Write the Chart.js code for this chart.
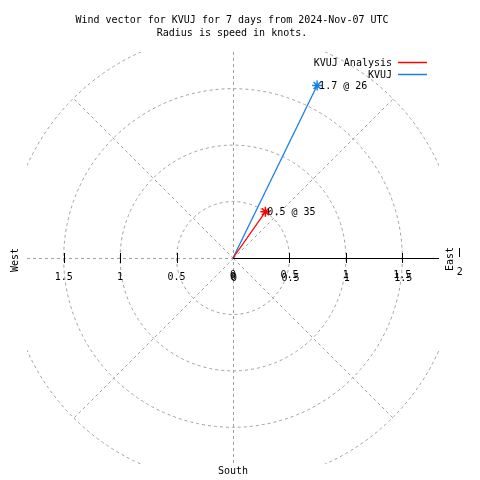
<!DOCTYPE html>
<html>
<head>
<meta charset="utf-8">
<script src="https://cdn.jsdelivr.net/npm/chart.js@4"></script>
<style>
  html, body { margin: 0; padding: 0; background: #fff; }
  #wrap { width: 480px; height: 480px; }
</style>
</head>
<body>
<div id="wrap"><canvas id="windChart" width="480" height="480"></canvas></div>
<script>
// wind vectors: speed in knots, direction in degrees (clockwise from north)
const seriesNames = ['KVUJ Analysis', 'KVUJ'];
const seriesColors = ['#ff0000', '#1a7fe6'];
const speeds = [0.5, 1.7];
const directions = [35, 26];
const ringValues = [0.5, 1, 1.5, 2];
const tickValues = [0, 0.5, 1, 1.5];
const spokeAngles = [45, 135, 225, 315];
const titleLines = ['Wind vector for KVUJ for 7 days from 2024-Nov-07 UTC', 'Radius is speed in knots.'];

const FONT = '10px "DejaVu Sans Mono", "Liberation Mono", monospace';
const LIM = 1.825;

const datasets = seriesNames.map((name, i) => {
    const rad = directions[i] * Math.PI / 180;
    return {
        label: name,
        data: [{ x: 0, y: 0 }, { x: speeds[i] * Math.sin(rad), y: speeds[i] * Math.cos(rad) }],
        showLine: true,
        borderColor: seriesColors[i],
        backgroundColor: seriesColors[i],
        borderWidth: 1.3,
        pointStyle: 'star',
        pointRadius: [0, 5],
        pointBorderWidth: 1.5,
        pointBorderColor: seriesColors[i]
    };
});

// draws the polar grid, axis, labels and legend with the chart's scales
const polarDecor = {
    id: 'polarDecor',
    beforeDatasetsDraw(chart) {
        const ctx = chart.ctx;
        const xs = chart.scales.x, ys = chart.scales.y;
        const area = chart.chartArea;
        const cx = xs.getPixelForValue(0), cy = ys.getPixelForValue(0);
        const unit = xs.getPixelForValue(1) - cx;

        ctx.save();
        ctx.beginPath();
        ctx.rect(area.left, area.top, area.right - area.left, area.bottom - area.top);
        ctx.clip();
        ctx.strokeStyle = '#a0a0a0';
        ctx.lineWidth = 1;
        ctx.setLineDash([3, 3]);
        ringValues.forEach(r => {
            ctx.beginPath();
            ctx.arc(cx, cy, r * unit, 0, Math.PI * 2);
            ctx.stroke();
        });
        const rMax = ringValues[ringValues.length - 1];
        spokeAngles.forEach(a => {
            const rad = a * Math.PI / 180;
            ctx.beginPath();
            ctx.moveTo(cx + 0.5, cy + 0.5);
            ctx.lineTo(xs.getPixelForValue(rMax * Math.sin(rad)) + 0.5, ys.getPixelForValue(rMax * Math.cos(rad)) + 0.5);
            ctx.stroke();
        });
        // north, south, west lines
        ctx.beginPath();
        ctx.moveTo(Math.round(cx) + 0.5, area.top);
        ctx.lineTo(Math.round(cx) + 0.5, area.bottom);
        ctx.moveTo(area.left, Math.round(cy) + 0.5);
        ctx.lineTo(cx, Math.round(cy) + 0.5);
        ctx.stroke();
        ctx.restore();

        // east axis
        ctx.save();
        ctx.strokeStyle = '#000';
        ctx.lineWidth = 1;
        ctx.beginPath();
        ctx.moveTo(cx, Math.round(cy) + 0.5);
        ctx.lineTo(area.right, Math.round(cy) + 0.5);
        ctx.stroke();
        ctx.beginPath();
        tickValues.forEach(v => {
            if (v === 0) return;
            [v, -v].forEach(t => {
                const px = Math.round(xs.getPixelForValue(t)) + 0.5;
                ctx.moveTo(px, cy - 5);
                ctx.lineTo(px, cy + 5);
            });
        });
        const px2 = Math.round(xs.getPixelForValue(2)) + 0.5;
        ctx.moveTo(px2, cy - 10);
        ctx.lineTo(px2, cy - 1);
        ctx.stroke();

        ctx.fillStyle = '#000';
        ctx.font = FONT;
        ctx.textAlign = 'center';
        ctx.textBaseline = 'middle';
        tickValues.forEach(v => {
            ctx.fillText(String(v), xs.getPixelForValue(-v), cy + 19);
            ctx.fillText(String(v), xs.getPixelForValue(v), cy + 17);
            ctx.fillText(String(v), xs.getPixelForValue(v) + 1, cy + 20);
        });
        ctx.fillText('2', xs.getPixelForValue(2) + 1, cy + 14);

        // compass words
        ctx.fillText('South', cx, 471);
        [['West', 15, cy + 2], ['East', 450, cy + 1]].forEach(([w, x, y]) => {
            ctx.save();
            ctx.translate(x, y);
            ctx.rotate(-Math.PI / 2);
            ctx.fillText(w, 0, 0);
            ctx.restore();
        });

        // title
        titleLines.forEach((t, i) => ctx.fillText(t, 232, 20 + i * 13));

        // legend
        ctx.textAlign = 'right';
        seriesNames.forEach((name, i) => {
            const y = 63 + i * 12;
            ctx.fillStyle = '#000';
            ctx.fillText(name, 392, y);
            ctx.strokeStyle = seriesColors[i];
            ctx.lineWidth = 1.5;
            ctx.beginPath();
            ctx.moveTo(398, Math.round(y) - 0.5);
            ctx.lineTo(427, Math.round(y) - 0.5);
            ctx.stroke();
        });
        ctx.restore();
    },
    afterDatasetsDraw(chart) {
        const ctx = chart.ctx;
        ctx.save();
        ctx.fillStyle = '#000';
        ctx.font = FONT;
        ctx.textAlign = 'left';
        ctx.textBaseline = 'middle';
        seriesNames.forEach((name, i) => {
            const pt = chart.getDatasetMeta(i).data[1];
            ctx.fillText(speeds[i] + ' @ ' + directions[i], pt.x + 2, pt.y + 1);
        });
        ctx.restore();
    }
};

new Chart(document.getElementById('windChart'), {
    type: 'scatter',
    data: { datasets: datasets },
    options: {
        responsive: false,
        animation: false,
        layout: { padding: { left: 27, right: 41, top: 52, bottom: 16 } },
        scales: {
            x: { type: 'linear', min: -LIM, max: LIM, display: false },
            y: { type: 'linear', min: -LIM, max: LIM, display: false }
        },
        plugins: {
            legend: { display: false },
            title: { display: false },
            tooltip: { enabled: false }
        }
    },
    plugins: [polarDecor]
});
</script>
</body>
</html>
